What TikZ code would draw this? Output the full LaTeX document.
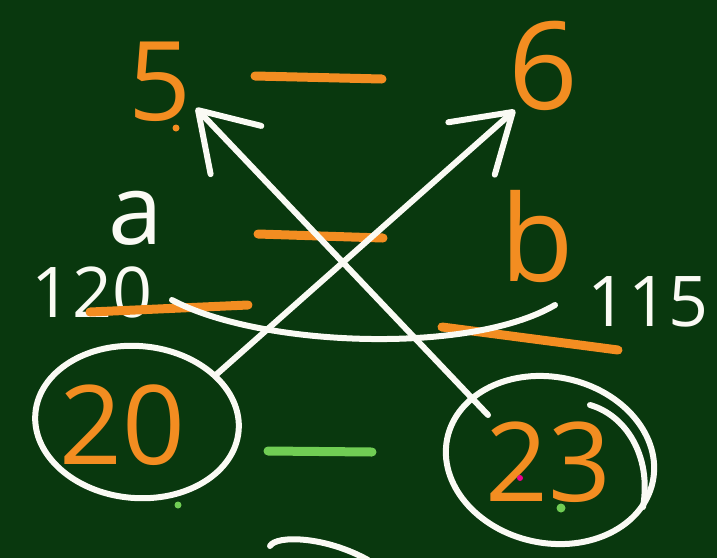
\documentclass[tikz,border=0pt]{standalone}
\usepackage{fontspec}
\setmainfont{Open Sans}
\usetikzlibrary{arrows.meta,shapes.geometric}
\definecolor{board}{RGB}{9,56,14}
\definecolor{chalkorange}{RGB}{243,141,33}
\definecolor{chalkwhite}{RGB}{250,250,244}
\definecolor{chalkgreen}{RGB}{112,205,84}
\tikzset{
  bigdigit/.style={text=chalkorange, font=\fontsize{110}{110}\selectfont, inner sep=0pt},
  smalldigit/.style={text=chalkwhite, font=\fontsize{70}{70}\selectfont, inner sep=0pt},
  odash/.style={draw=chalkorange, line width=9pt, line cap=round},
  chalk/.style={draw=chalkwhite, line width=6pt, line cap=round},
  ring/.style={ellipse, draw=chalkwhite, line width=6pt, inner sep=0pt},
  barb/.style={-{Straight Barb[length=55pt,width=70pt,round]}}
}
\begin{document}
\begin{tikzpicture}[x=1pt,y=-1pt]
\fill[board] (0,0) rectangle (717,558);
\useasboundingbox (0,0) rectangle (717,558);

\node[bigdigit] (five) at (160,82) {5};
\node[bigdigit, font=\fontsize{122}{122}\selectfont] (six) at (543,66) {6};
\node[bigdigit, text=chalkwhite, font=\fontsize{98}{98}\selectfont] (a) at (136,218) {a};
\node[bigdigit, font=\fontsize{120}{120}\selectfont] (b) at (537,236) {b};
\node[smalldigit] (n120) at (92,292) {120};
\node[smalldigit] (n115) at (648,302) {115};
\node[bigdigit] (n20) at (122,425) {20};
\node[bigdigit] (n23) at (548,462) {23};

\node[ring, minimum width=204pt, minimum height=152pt, rotate=-5] (r20) at (137,422) {};
\node[ring, minimum width=210pt, minimum height=166pt, rotate=-12] (r23) at (550,460) {};
\draw[chalk] (590,405) .. controls (625,415) and (652,455) .. (643,507);

\draw[odash] (255,76) -- (382,79);
\draw[odash] (258,234) -- (383,238);
\draw[odash] (90,312) -- (248,305);
\draw[odash] (442,327) -- (618,350);
\draw[draw=chalkgreen, line width=9pt, line cap=round] (268,451) -- (372,452);

\draw[chalk] (172,300) .. controls (260,347) and (470,355) .. (555,305);
\draw[chalk] (270,546) .. controls (276,535) and (325,536) .. (368,560);

\coordinate (tip6) at (515,110);
\coordinate (tip5) at (196,108);
\coordinate (tail23) at (488,415);
\draw[chalk,barb] (r20.36) -- (tip6);
\draw[chalk,barb] (tail23) -- (tip5);

\fill[chalkorange] (176,128) circle (3.5);
\fill[chalkgreen] (178,505) circle (3.5);
\fill[chalkgreen] (561,508) circle (4.5);
\fill[magenta] (520,478) circle (3);
\end{tikzpicture}
\end{document}
